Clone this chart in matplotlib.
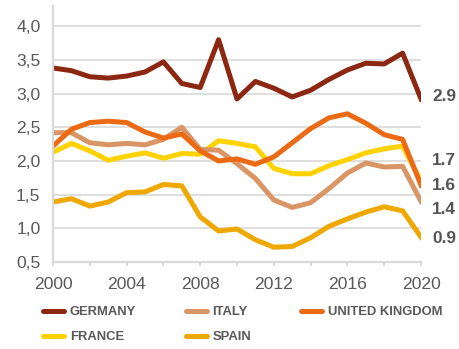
import matplotlib
matplotlib.use("Agg")
import matplotlib.pyplot as plt

years = list(range(2000, 2021))

germany = [3.38, 3.34, 3.25, 3.23, 3.26, 3.32, 3.47, 3.15, 3.09, 3.80, 2.92,
           3.18, 3.08, 2.95, 3.05, 3.21, 3.35, 3.45, 3.44, 3.60, 2.92]
italy = [2.42, 2.42, 2.27, 2.24, 2.26, 2.24, 2.32, 2.50, 2.17, 2.16, 1.96,
         1.74, 1.42, 1.31, 1.38, 1.59, 1.82, 1.97, 1.91, 1.92, 1.40]
uk = [2.22, 2.47, 2.57, 2.59, 2.57, 2.43, 2.34, 2.40, 2.15, 2.00, 2.03,
      1.95, 2.06, 2.27, 2.48, 2.64, 2.70, 2.56, 2.39, 2.32, 1.64]
france = [2.13, 2.26, 2.15, 2.01, 2.07, 2.12, 2.04, 2.11, 2.10, 2.30, 2.26,
          2.21, 1.89, 1.81, 1.81, 1.93, 2.02, 2.12, 2.18, 2.22, 1.70]
spain = [1.39, 1.44, 1.33, 1.39, 1.53, 1.54, 1.65, 1.63, 1.17, 0.96, 0.99,
         0.83, 0.72, 0.73, 0.86, 1.03, 1.14, 1.24, 1.32, 1.26, 0.87]

end_labels = ["2.9", "1.7", "1.6", "1.4", "0.9"]
end_label_y = [2.95, 2.01, 1.64, 1.28, 0.85]

y_ticks = [0.5, 1.0, 1.5, 2.0, 2.5, 3.0, 3.5, 4.0]
x_ticks = list(range(2000, 2021, 2))

plt.rcParams['font.family'] = ['Liberation Sans', 'DejaVu Sans']

grey = "#d9d9d9"
text_grey = "#595959"

fig = plt.figure(figsize=(4.6, 3.49), dpi=100)
ax = fig.add_axes([53 / 460, 87 / 349, 368 / 460, 256 / 349])

lw = 3.6
l_fr, = ax.plot(years, france, color="#ffd200", lw=lw, label="FRANCE", solid_joinstyle="round")
l_sp, = ax.plot(years, spain, color="#efa800", lw=lw, label="SPAIN", solid_joinstyle="round")
l_it, = ax.plot(years, italy, color="#da9565", lw=lw, label="ITALY", solid_joinstyle="round")
l_uk, = ax.plot(years, uk, color="#ec6a14", lw=lw, label="UNITED KINGDOM", solid_joinstyle="round")
l_de, = ax.plot(years, germany, color="#8c2711", lw=lw, label="GERMANY", solid_joinstyle="round")

ax.set_xlim(2000, 2020)
ax.set_ylim(0.5, 4.3)
ax.set_yticks(y_ticks)
ax.set_yticklabels([f"{v:.1f}".replace(".", ",") for v in y_ticks])
ax.set_xticks(x_ticks)
ax.set_xticklabels([str(y) if y % 4 == 0 else "" for y in x_ticks])

ax.grid(axis="y", color=grey, lw=1.2)
ax.set_axisbelow(True)
for s in ["top", "right"]:
    ax.spines[s].set_visible(False)
for s in ["left", "bottom"]:
    ax.spines[s].set_color(grey)
    ax.spines[s].set_linewidth(1.6)

ax.tick_params(axis="y", length=0, pad=9, labelsize=12.6, labelcolor=text_grey)
ax.tick_params(axis="x", length=3, width=1.4, color=grey, pad=8,
               labelsize=12.6, labelcolor=text_grey)

for lab, yv in zip(end_labels, end_label_y):
    ax.text(2020.6, yv, lab, ha="left", va="center", fontsize=12.4,
            fontweight="bold", color="#555555", clip_on=False)

handles = [l_de, l_fr, l_it, l_sp, l_uk]
leg = fig.legend(handles, [h.get_label() for h in handles], ncol=3,
                 loc="upper left", bbox_to_anchor=(43 / 460, 1 - 306 / 349),
                 frameon=False, borderpad=0, borderaxespad=0,
                 handlelength=1.6, handletextpad=0.45, columnspacing=3.8,
                 labelspacing=1.0,
                 prop={"weight": "bold", "size": 9.4})
for t in leg.get_texts():
    t.set_color(text_grey)
for h in leg.legend_handles:
    h.set_linewidth(3.6)
    h.set_solid_capstyle("round")

fig.savefig("out.png", dpi=100)
